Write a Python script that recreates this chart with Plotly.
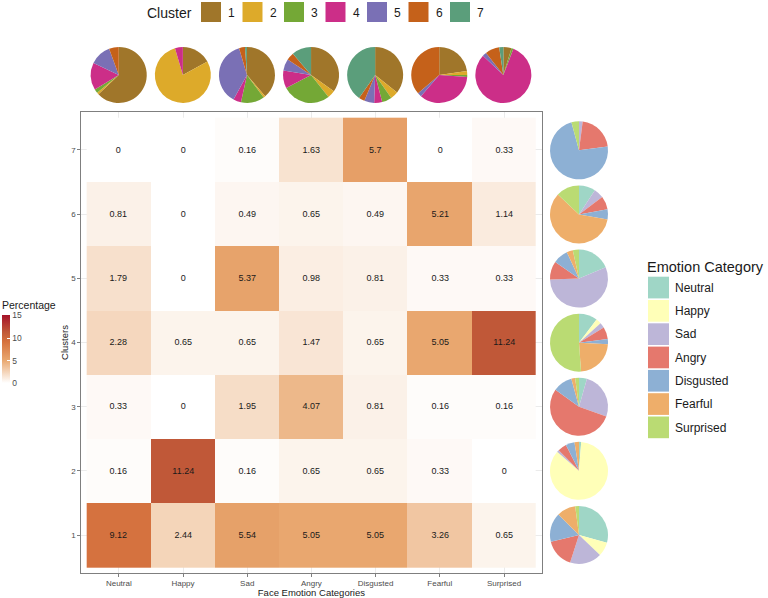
import plotly.graph_objects as go

# data: percentage of faces per (cluster, emotion)
EMOTIONS = ["Neutral", "Happy", "Sad", "Angry", "Disgusted", "Fearful", "Surprised"]
CLUSTERS = [1, 2, 3, 4, 5, 6, 7]

cluster_1 = [9.12, 2.44, 5.54, 5.05, 5.05, 3.26, 0.65]
cluster_2 = [0.16, 11.24, 0.16, 0.65, 0.65, 0.33, 0]
cluster_3 = [0.33, 0, 1.95, 4.07, 0.81, 0.16, 0.16]
cluster_4 = [2.28, 0.65, 0.65, 1.47, 0.65, 5.05, 11.24]
cluster_5 = [1.79, 0, 5.37, 0.98, 0.81, 0.33, 0.33]
cluster_6 = [0.81, 0, 0.49, 0.65, 0.49, 5.21, 1.14]
cluster_7 = [0, 0, 0.16, 1.63, 5.7, 0, 0.33]

CLUSTER_COLORS = ["#A0762A", "#DDAA2A", "#74A836", "#CC2E88", "#7A70B5", "#C5611A", "#5B9E7B"]
EMOTION_COLORS = ["#9FD6C6", "#FFFFB8", "#BDB6D8", "#E5786D", "#8DB0D4", "#EEAE6A", "#BADB73"]

rows = [cluster_1, cluster_2, cluster_3, cluster_4, cluster_5, cluster_6, cluster_7]
cols = [[r[j] for r in rows] for j in range(len(EMOTIONS))]

W, H = 768, 598
FONT = "Liberation Sans, Arial, sans-serif"


def fx(px):
    return px / W


def fy(py):
    return 1 - py / H


# panel geometry in pixels
PX0, PX1 = 81.3, 541.5
PY0, PY1 = 112.3, 572.7
CELL = 64.1
CX0 = 86.7      # left edge of first cell
CY1 = 567.0     # bottom edge of first row

fig = go.Figure()

fig.add_trace(go.Heatmap(
    x=EMOTIONS, y=CLUSTERS, z=rows,
    zmin=0, zmax=15,
    colorscale=[[0, "#FFFFFF"], [0.333, "#E9A870"], [0.6, "#D6733F"],
                [0.75, "#C05838"], [1, "#A5122A"]],
    text=[[f"{v:g}" for v in r] for r in rows],
    texttemplate="%{text}",
    textfont=dict(size=9, color="#1a1a1a", family=FONT),
    hoverinfo="x+y+z",
    colorbar=dict(
        title=dict(text="Percentage", side="top", font=dict(size=10.5, family=FONT, color="#1a1a1a")),
        x=fx(2), xanchor="left", y=fy(341), yanchor="middle",
        lenmode="pixels", len=85, thickness=8, xpad=0, ypad=0,
        outlinewidth=0, tickvals=[0, 5, 10, 15], ticks="inside",
        ticklen=3, tickcolor="white",
        tickfont=dict(size=8.5, family=FONT, color="#4d4d4d"),
    ),
))

# pies above each emotion column: share of each cluster
for j, emo in enumerate(EMOTIONS):
    cx = CX0 + CELL * (j + 0.5)
    r = 28
    fig.add_trace(go.Pie(
        values=cols[j], labels=[str(c) for c in CLUSTERS],
        marker=dict(colors=CLUSTER_COLORS, line=dict(width=0)),
        sort=False, direction="clockwise", rotation=0,
        textinfo="none", showlegend=False, name=emo,
        domain=dict(x=[fx(cx - r), fx(cx + r)], y=[fy(75 + r), fy(75 - r)]),
    ))

# pies right of each cluster row: share of each emotion
for i, c in enumerate(CLUSTERS):
    cy = CY1 - CELL * (i + 0.5)
    r = 29
    fig.add_trace(go.Pie(
        values=rows[i], labels=EMOTIONS,
        marker=dict(colors=EMOTION_COLORS, line=dict(width=0)),
        sort=False, direction="clockwise", rotation=0,
        textinfo="none", showlegend=False, name=f"Cluster {c}",
        domain=dict(x=[fx(579 - r), fx(579 + r)], y=[fy(cy + r), fy(cy - r)]),
    ))

shapes = []
annotations = []

# cluster legend (top)
annotations.append(dict(text="Cluster", x=fx(145), y=fy(12.5), xref="paper", yref="paper",
                        xanchor="left", yanchor="middle", showarrow=False,
                        font=dict(size=14, family=FONT, color="#1a1a1a")))
for i, c in enumerate(CLUSTERS):
    x0 = 201 + 41.5 * i
    shapes.append(dict(type="rect", xref="paper", yref="paper",
                       x0=fx(x0), x1=fx(x0 + 20), y0=fy(22), y1=fy(2),
                       fillcolor=CLUSTER_COLORS[i], line=dict(width=0)))
    annotations.append(dict(text=str(c), x=fx(x0 + 25), y=fy(12.5), xref="paper", yref="paper",
                            xanchor="left", yanchor="middle", showarrow=False,
                            font=dict(size=12, family=FONT, color="#1a1a1a")))

# emotion legend (right)
annotations.append(dict(text="Emotion Category", x=fx(645), y=fy(267), xref="paper", yref="paper",
                        xanchor="left", yanchor="middle", showarrow=False,
                        font=dict(size=14.5, family=FONT, color="#1a1a1a")))
for i, emo in enumerate(EMOTIONS):
    y0 = 276.7 + 23.3 * i
    shapes.append(dict(type="rect", xref="paper", yref="paper",
                       x0=fx(648), x1=fx(669), y0=fy(y0 + 21.7), y1=fy(y0),
                       fillcolor=EMOTION_COLORS[i], line=dict(width=0)))
    annotations.append(dict(text=emo, x=fx(673), y=fy(y0 + 11), xref="paper", yref="paper",
                            xanchor="left", yanchor="middle", showarrow=False,
                            font=dict(size=12, family=FONT, color="#1a1a1a")))

axis_common = dict(
    showline=True, linecolor="#7f7f7f", linewidth=1, mirror=True,
    showgrid=True, gridcolor="#EBEBEB", gridwidth=0.5,
    ticks="outside", ticklen=3, tickcolor="#7f7f7f",
    tickfont=dict(size=8, family=FONT, color="#4d4d4d"),
    zeroline=False, automargin=False,
)

fig.update_layout(
    width=W, height=H,
    margin=dict(l=0, r=0, t=0, b=0, autoexpand=False),
    paper_bgcolor="white", plot_bgcolor="white",
    font=dict(family=FONT),
    xaxis=dict(domain=[fx(PX0), fx(PX1)], range=[-0.584, 6.584],
               title=dict(text="Face Emotion Categories", standoff=2,
                          font=dict(size=9.5, family=FONT, color="#1a1a1a")),
               **axis_common),
    yaxis=dict(domain=[fy(PY1), fy(PY0)], range=[0.416, 7.584],
               tickvals=CLUSTERS,
               title=dict(text="Clusters", standoff=0,
                          font=dict(size=9.5, family=FONT, color="#1a1a1a")),
               **axis_common),
    shapes=shapes,
    annotations=annotations,
)

# drop the default 8px body margin so the 768x598 figure fills the window
fig.write_html("out.html", config={"displayModeBar": False},
               post_script="document.body.style.margin='0';")
